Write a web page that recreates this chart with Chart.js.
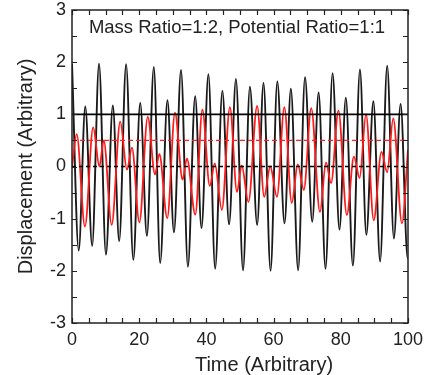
<!DOCTYPE html>
<html>
<head>
<meta charset="utf-8">
<script src="https://cdn.jsdelivr.net/npm/chart.js@4.4.1/dist/chart.umd.min.js"></script>
<style>
html,body{margin:0;padding:0;background:#fff;}
#wrap{width:433px;height:375px;}
</style>
</head>
<body>
<div id="wrap"><canvas id="c" width="433" height="375"></canvas></div>
<script>
// ---- data (extrema of each trace) ----
const blackT = [0,2.0,3.95,6.0,8.05,10.1,12.15,14.05,16.1,18.25,20.3,22.3,24.35,26.25,28.4,30.35,32.45,34.5,36.65,38.55,40.6,42.6,44.75,46.75,48.8,50.9,52.95,55.1,57.0,59.1,61.1,63.25,65.15,67.3,69.35,71.5,73.4,75.45,77.55,79.6,81.5,83.6,85.7,87.6,89.7,91.7,93.8,95.8,97.8,99.9,100];
const blackY = [1.97,-1.61,1.15,-1.52,1.97,-1.69,1.17,-1.43,1.96,-1.79,1.22,-1.33,1.91,-1.85,1.27,-1.26,1.85,-1.92,1.35,-1.18,1.77,-1.96,1.45,-1.11,1.68,-1.99,1.53,-1.12,1.6,-2.0,1.63,-1.09,1.49,-1.99,1.71,-1.06,1.42,-1.96,1.79,-1.21,1.32,-1.9,1.86,-1.31,1.25,-1.82,1.93,-1.38,1.2,-1.76,-1.75];
const redT = [0,1.4,3.85,6.3,8.15,9.45,11.8,14.35,16.35,17.85,20.05,22.55,24.7,26.0,28.35,30.65,32.9,34.2,36.7,38.8,41.0,42.5,44.6,47.0,49.1,50.5,52.5,55.1,57.2,59.0,61.0,63.2,65.4,67.2,69.0,71.2,73.8,75.6,77.1,79.3,81.8,83.9,85.6,87.5,89.8,92.1,93.8,95.6,98.2,100];
const redY = [0.0,0.62,-1.15,0.75,0.0,0.5,-1.12,0.86,-0.06,0.36,-1.07,0.95,-0.15,0.24,-0.99,1.03,-0.25,0.15,-0.92,1.09,-0.37,0.06,-0.83,1.14,-0.49,0.02,-0.68,1.16,-0.58,0.0,-0.58,1.14,-0.7,0.04,-0.45,1.12,-0.87,0.08,-0.32,1.07,-0.93,0.19,-0.22,1.0,-1.03,0.28,-0.11,0.92,-1.09,0.32];
const refBlackSolid = 1;
const refRedDashed = 0.5;
const refBlackDashed = 0;
const xRange = [0, 100];
const yRange = [-3, 3];
const xTickLabels = [0, 20, 40, 60, 80, 100];
const yTickLabels = [-3, -2, -1, 0, 1, 2, 3];
const xTickMarks = [0,5,10,15,20,25,30,35,40,45,50,55,60,65,70,75,80,85,90,95,100];
const yTickMarks = [-3,-2.5,-2,-1.5,-1,-0.5,0,0.5,1,1.5,2,2.5,3];
const plotTitle = 'Mass Ratio=1:2, Potential Ratio=1:1';
const xTitle = 'Time (Arbitrary)';
const yTitle = 'Displacement (Arbitrary)';

const FONT = '"Liberation Sans", Arial, Helvetica, sans-serif';
const pts = (t, v) => t.map((x, i) => ({x: x, y: v[i]}));
const hline = (v) => [{x: xRange[0], y: v}, {x: xRange[1], y: v}];

const framePlugin = {
  id: 'frame',
  afterDraw(chart) {
    const ctx = chart.ctx, ca = chart.chartArea;
    const xs = chart.scales.x, ys = chart.scales.y;
    ctx.save();
    ctx.strokeStyle = '#222';
    ctx.lineWidth = 1.5;
    ctx.strokeRect(ca.left, ca.top, ca.right - ca.left, ca.bottom - ca.top);
    ctx.lineWidth = 1.2;
    ctx.beginPath();
    xTickMarks.forEach(v => {
      const p = Math.round(xs.getPixelForValue(v)) + 0.5;
      ctx.moveTo(p, ca.bottom); ctx.lineTo(p, ca.bottom - 5);
      ctx.moveTo(p, ca.top); ctx.lineTo(p, ca.top + 5);
    });
    yTickMarks.forEach(v => {
      const p = Math.round(ys.getPixelForValue(v)) + 0.5;
      ctx.moveTo(ca.left, p); ctx.lineTo(ca.left + 5, p);
      ctx.moveTo(ca.right, p); ctx.lineTo(ca.right - 5, p);
    });
    ctx.stroke();
    ctx.fillStyle = '#222';
    ctx.textAlign = 'center';
    ctx.textBaseline = 'alphabetic';
    ctx.font = '18.5px ' + FONT;
    ctx.fillText(plotTitle, (ca.left + ca.right) / 2 - 3, ca.top + 23);
    ctx.font = '20px ' + FONT;
    ctx.fillText(xTitle, 264, 371);
    ctx.restore();
  }
};

new Chart(document.getElementById('c'), {
  type: 'scatter',
  data: {
    datasets: [
      {label: 'ref0', data: hline(refBlackDashed), showLine: true, borderColor: '#000', borderWidth: 1.4, borderDash: [4, 3], pointRadius: 0},
      {label: 'ref05', data: hline(refRedDashed), showLine: true, borderColor: '#ff2020', borderWidth: 1.3, borderDash: [5, 3], pointRadius: 0},
      {label: 'ref1', data: hline(refBlackSolid), showLine: true, borderColor: '#000', borderWidth: 1.7, pointRadius: 0},
      {label: 'red', data: pts(redT, redY), showLine: true, borderColor: '#ff1a1a', borderWidth: 1.8, pointRadius: 0, cubicInterpolationMode: 'monotone'},
      {label: 'black', data: pts(blackT, blackY), showLine: true, borderColor: '#1a1a1a', borderWidth: 1.9, pointRadius: 0, cubicInterpolationMode: 'monotone'}
    ]
  },
  options: {
    responsive: false,
    animation: false,
    layout: {padding: {left: 0, top: 0, right: 25, bottom: 0}},
    plugins: {legend: {display: false}, tooltip: {enabled: false}},
    scales: {
      x: {
        type: 'linear', min: xRange[0], max: xRange[1],
        grid: {display: false, drawTicks: false},
        border: {display: false},
        afterBuildTicks: (s) => { s.ticks = xTickLabels.map(v => ({value: v})); },
        ticks: {color: '#222', font: {size: 18, family: FONT}, padding: 6, maxRotation: 0, autoSkip: false},
        afterFit: (s) => { s.height = 52; s.paddingLeft = 0; s.paddingRight = 0; }
      },
      y: {
        type: 'linear', min: yRange[0], max: yRange[1],
        grid: {display: false, drawTicks: false},
        border: {display: false},
        afterBuildTicks: (s) => { s.ticks = yTickLabels.map(v => ({value: v})); },
        ticks: {color: '#222', font: {size: 18, family: FONT}, padding: 6, autoSkip: false},
        title: {display: true, text: yTitle, color: '#222', font: {size: 20, family: FONT}, padding: {top: 14, bottom: 0}},
        afterFit: (s) => { s.width = 72; s.paddingTop = 10; s.paddingBottom = 0; }
      }
    }
  },
  plugins: [framePlugin]
});
</script>
</body>
</html>
